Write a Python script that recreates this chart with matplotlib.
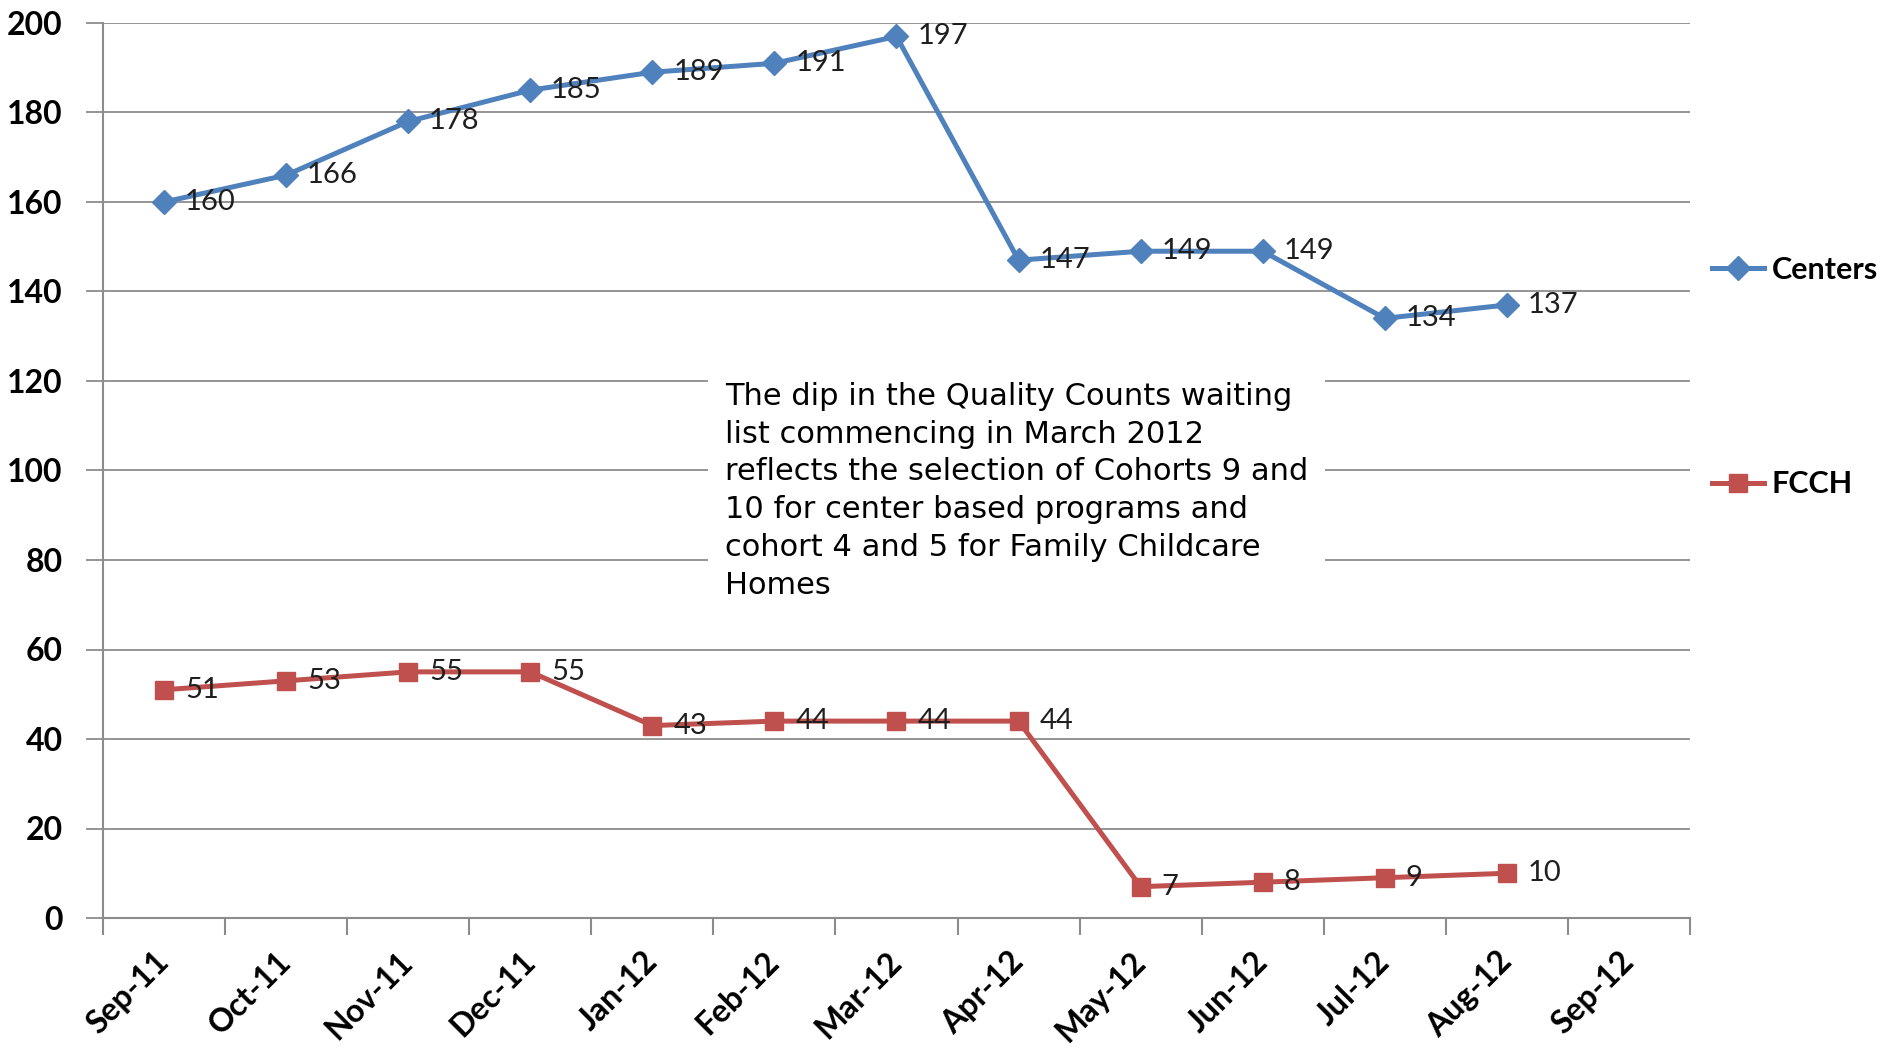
import numpy as np
import matplotlib.pyplot as plt
from matplotlib.lines import Line2D

months = ['Sep-11', 'Oct-11', 'Nov-11', 'Dec-11', 'Jan-12', 'Feb-12', 'Mar-12',
          'Apr-12', 'May-12', 'Jun-12', 'Jul-12', 'Aug-12', 'Sep-12']
centers = [160, 166, 178, 185, 189, 191, 197, 147, 149, 149, 134, 137]
fcch = [51, 53, 55, 55, 43, 44, 44, 44, 7, 8, 9, 10]

note = ('The dip in the Quality Counts waiting\n'
        'list commencing in March 2012\n'
        'reflects the selection of Cohorts 9 and\n'
        '10 for center based programs and\n'
        'cohort 4 and 5 for Family Childcare\n'
        'Homes')

BLUE = '#4F81BD'
RED = '#C0504D'
GRID = '#8C8C8C'
FONT = 'Lato'


def draw():
    fig = plt.figure(figsize=(18.83, 10.52), dpi=100)
    ax = fig.add_axes([103 / 1883, 1 - 918 / 1052, 1587 / 1883, 895 / 1052])

    x_c = np.arange(len(centers))
    x_f = np.arange(len(fcch))

    ax.plot(x_c, centers, color=BLUE, lw=3.6, marker='D', ms=12,
            zorder=3, label='Centers')
    ax.plot(x_f, fcch, color=RED, lw=3.6, marker='s', ms=13.5,
            zorder=3, label='FCCH')

    for xs, ys in ((x_c, centers), (x_f, fcch)):
        for xi, yi in zip(xs, ys):
            ax.annotate(str(yi), (xi, yi), xytext=(15, 0),
                        textcoords='offset points', va='center', ha='left',
                        fontsize=21, family=FONT, color='#1f1f1f', zorder=4)

    ax.set_xlim(-0.5, len(months) - 0.5)
    ax.set_ylim(0, 200)
    ax.set_yticks(np.arange(0, 201, 20))
    ax.yaxis.grid(True, color=GRID, lw=1.3)
    ax.set_axisbelow(True)

    ax.set_xticks(np.arange(len(months)))
    ax.set_xticklabels(months, rotation=45, ha='right', va='center',
                       rotation_mode='anchor', fontsize=23,
                       fontweight='bold', family=FONT)
    ax.set_xticks(np.arange(len(months) + 1) - 0.5, minor=True)
    ax.tick_params(axis='x', which='major', length=0, pad=28)
    ax.tick_params(axis='x', which='minor', length=12, width=1.5, color=GRID)
    ax.tick_params(axis='y', length=12, width=1.3, color=GRID, pad=17)
    for lab in ax.get_yticklabels():
        lab.set_fontsize(23)
        lab.set_fontweight('bold')
        lab.set_family(FONT)

    for s in ('top', 'right'):
        ax.spines[s].set_visible(False)
    for s in ('left', 'bottom'):
        ax.spines[s].set_color(GRID)
        ax.spines[s].set_linewidth(1.5)

    ax.text((725 - 103) / 1587, (918 - 382) / 895, note, transform=ax.transAxes,
            ha='left', va='top', fontsize=22, family='DejaVu Sans',
            linespacing=1.38, zorder=5,
            bbox=dict(facecolor='white', edgecolor='none', pad=12))

    handles = [Line2D([], [], color=BLUE, lw=3.6, marker='D', ms=12),
               Line2D([], [], color=RED, lw=3.6, marker='s', ms=13.5)]
    fig.legend(handles, ['Centers', 'FCCH'], loc='center left',
               bbox_to_anchor=(1712 / 1883, 1 - 377 / 1052),
               frameon=False, borderpad=0, borderaxespad=0,
               handlelength=1.7, handletextpad=0.25, labelspacing=6.1,
               prop={'family': FONT, 'weight': 'bold', 'size': 22})

    fig.savefig('out.png', dpi=100)


if __name__ == '__main__':
    draw()
